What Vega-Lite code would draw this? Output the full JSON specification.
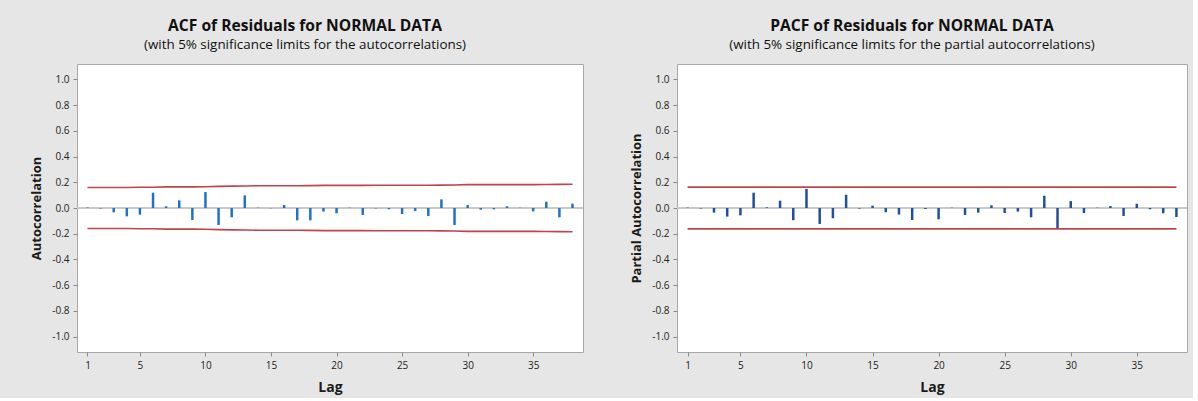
{
  "$schema": "https://vega.github.io/schema/vega-lite/v6.json",
  "background": "#e6e6e6",
  "padding": {"left": 30, "top": 18, "right": 5, "bottom": 3},
  "config": {
    "font": "Open Sans",
    "view": {"stroke": "#a8a8a8", "fill": "white", "strokeWidth": 1},
    "axis": {"grid": false, "domain": false, "tickColor": "#888888", "labelColor": "#222222", "labelFontSize": 10, "labelOverlap": false, "titleFontSize": 13, "titleFontWeight": "bold", "titleColor": "#1a1a1a", "tickSize": 4, "labelPadding": 4},
    "axisY": {"labelOverlap": false, "tickCount": 11},
    "title": {"fontSize": 15.6, "fontWeight": "bold", "subtitleFontSize": 13.4, "color": "#111111", "subtitleColor": "#111111", "subtitlePadding": 3},
    "concat": {"spacing": 46}
  },
  "datasets": {
    "d": [
      {"lag": 1, "acf": 0.004, "au": 0.160, "al": -0.160, "pacf": 0.003, "pu": 0.162, "pl": -0.162},
      {"lag": 2, "acf": -0.004, "au": 0.160, "al": -0.160, "pacf": -0.004, "pu": 0.162, "pl": -0.162},
      {"lag": 3, "acf": -0.034, "au": 0.160, "al": -0.160, "pacf": -0.036, "pu": 0.162, "pl": -0.162},
      {"lag": 4, "acf": -0.065, "au": 0.160, "al": -0.160, "pacf": -0.067, "pu": 0.162, "pl": -0.162},
      {"lag": 5, "acf": -0.052, "au": 0.161, "al": -0.161, "pacf": -0.057, "pu": 0.162, "pl": -0.162},
      {"lag": 6, "acf": 0.119, "au": 0.161, "al": -0.161, "pacf": 0.119, "pu": 0.162, "pl": -0.162},
      {"lag": 7, "acf": 0.013, "au": 0.164, "al": -0.164, "pacf": 0.005, "pu": 0.162, "pl": -0.162},
      {"lag": 8, "acf": 0.059, "au": 0.164, "al": -0.164, "pacf": 0.057, "pu": 0.162, "pl": -0.162},
      {"lag": 9, "acf": -0.093, "au": 0.164, "al": -0.164, "pacf": -0.095, "pu": 0.162, "pl": -0.162},
      {"lag": 10, "acf": 0.124, "au": 0.165, "al": -0.165, "pacf": 0.149, "pu": 0.162, "pl": -0.162},
      {"lag": 11, "acf": -0.132, "au": 0.168, "al": -0.168, "pacf": -0.124, "pu": 0.162, "pl": -0.162},
      {"lag": 12, "acf": -0.072, "au": 0.170, "al": -0.170, "pacf": -0.080, "pu": 0.162, "pl": -0.162},
      {"lag": 13, "acf": 0.098, "au": 0.171, "al": -0.171, "pacf": 0.103, "pu": 0.162, "pl": -0.162},
      {"lag": 14, "acf": 0.002, "au": 0.173, "al": -0.173, "pacf": -0.005, "pu": 0.162, "pl": -0.162},
      {"lag": 15, "acf": -0.002, "au": 0.173, "al": -0.173, "pacf": 0.018, "pu": 0.162, "pl": -0.162},
      {"lag": 16, "acf": 0.023, "au": 0.173, "al": -0.173, "pacf": -0.033, "pu": 0.162, "pl": -0.162},
      {"lag": 17, "acf": -0.096, "au": 0.173, "al": -0.173, "pacf": -0.051, "pu": 0.162, "pl": -0.162},
      {"lag": 18, "acf": -0.096, "au": 0.174, "al": -0.174, "pacf": -0.093, "pu": 0.162, "pl": -0.162},
      {"lag": 19, "acf": -0.028, "au": 0.176, "al": -0.176, "pacf": -0.008, "pu": 0.162, "pl": -0.162},
      {"lag": 20, "acf": -0.041, "au": 0.176, "al": -0.176, "pacf": -0.088, "pu": 0.162, "pl": -0.162},
      {"lag": 21, "acf": 0.002, "au": 0.176, "al": -0.176, "pacf": 0.002, "pu": 0.162, "pl": -0.162},
      {"lag": 22, "acf": -0.054, "au": 0.176, "al": -0.176, "pacf": -0.054, "pu": 0.162, "pl": -0.162},
      {"lag": 23, "acf": -0.003, "au": 0.177, "al": -0.177, "pacf": -0.036, "pu": 0.162, "pl": -0.162},
      {"lag": 24, "acf": -0.010, "au": 0.177, "al": -0.177, "pacf": 0.021, "pu": 0.162, "pl": -0.162},
      {"lag": 25, "acf": -0.047, "au": 0.177, "al": -0.177, "pacf": -0.039, "pu": 0.162, "pl": -0.162},
      {"lag": 26, "acf": -0.023, "au": 0.177, "al": -0.177, "pacf": -0.028, "pu": 0.162, "pl": -0.162},
      {"lag": 27, "acf": -0.062, "au": 0.177, "al": -0.177, "pacf": -0.072, "pu": 0.162, "pl": -0.162},
      {"lag": 28, "acf": 0.067, "au": 0.178, "al": -0.178, "pacf": 0.095, "pu": 0.162, "pl": -0.162},
      {"lag": 29, "acf": -0.132, "au": 0.179, "al": -0.179, "pacf": -0.162, "pu": 0.162, "pl": -0.162},
      {"lag": 30, "acf": 0.023, "au": 0.182, "al": -0.182, "pacf": 0.054, "pu": 0.162, "pl": -0.162},
      {"lag": 31, "acf": -0.013, "au": 0.182, "al": -0.182, "pacf": -0.039, "pu": 0.162, "pl": -0.162},
      {"lag": 32, "acf": -0.010, "au": 0.182, "al": -0.182, "pacf": 0.002, "pu": 0.162, "pl": -0.162},
      {"lag": 33, "acf": 0.013, "au": 0.182, "al": -0.182, "pacf": 0.015, "pu": 0.162, "pl": -0.162},
      {"lag": 34, "acf": 0.002, "au": 0.182, "al": -0.182, "pacf": -0.062, "pu": 0.162, "pl": -0.162},
      {"lag": 35, "acf": -0.026, "au": 0.182, "al": -0.182, "pacf": 0.033, "pu": 0.162, "pl": -0.162},
      {"lag": 36, "acf": 0.049, "au": 0.183, "al": -0.183, "pacf": -0.010, "pu": 0.162, "pl": -0.162},
      {"lag": 37, "acf": -0.072, "au": 0.184, "al": -0.184, "pacf": -0.041, "pu": 0.162, "pl": -0.162},
      {"lag": 38, "acf": 0.034, "au": 0.185, "al": -0.185, "pacf": -0.070, "pu": 0.162, "pl": -0.162}
    ]
  },
  "hconcat": [
    {
      "width": 506,
      "height": 288,
      "title": {"text": "ACF of Residuals for NORMAL DATA", "subtitle": "(with 5% significance limits for the autocorrelations)", "anchor": "middle", "frame": "group", "offset": 13, "dx": -25},
      "data": {"name": "d"},
      "layer": [
        {"mark": {"type": "rule", "color": "#c8c8c8", "strokeWidth": 1},
         "encoding": {"y": {"datum": 0, "type": "quantitative", "scale": {"domain": [-1.12, 1.12], "nice": false, "zero": false}, "axis": {"values": [-1, -0.8, -0.6, -0.4, -0.2, 0, 0.2, 0.4, 0.6, 0.8, 1], "tickCount": 11, "labelExpr": "replace(format(datum.value, '.1f'), '\u2212', '-')", "labelOverlap": false, "labelBound": false, "title": "Autocorrelation", "titlePadding": 8}}}},
        {"mark": {"type": "rule", "color": "#1f72cc", "strokeWidth": 2.5},
         "encoding": {
           "x": {"field": "lag", "type": "quantitative", "scale": {"domain": [0.2, 38.8], "nice": false, "zero": false}, "axis": {"values": [1, 5, 10, 15, 20, 25, 30, 35], "labelOverlap": false, "title": "Lag", "titleFontSize": 14, "titlePadding": 10}},
           "y": {"field": "acf", "type": "quantitative", "axis": {"values": [-1, -0.8, -0.6, -0.4, -0.2, 0, 0.2, 0.4, 0.6, 0.8, 1], "tickCount": 11, "labelExpr": "replace(format(datum.value, '.1f'), '\u2212', '-')", "labelOverlap": false, "title": "Autocorrelation", "titlePadding": 8}},
           "y2": {"datum": 0}}},
        {"mark": {"type": "line", "color": "#c4424b", "strokeWidth": 1.6},
         "encoding": {"x": {"field": "lag", "type": "quantitative"}, "y": {"field": "au", "type": "quantitative"}}},
        {"mark": {"type": "line", "color": "#c4424b", "strokeWidth": 1.6},
         "encoding": {"x": {"field": "lag", "type": "quantitative"}, "y": {"field": "al", "type": "quantitative"}}}
      ]
    },
    {
      "width": 510,
      "height": 288,
      "title": {"text": "PACF of Residuals for NORMAL DATA", "subtitle": "(with 5% significance limits for the partial autocorrelations)", "anchor": "middle", "frame": "group", "offset": 13, "dx": -20},
      "data": {"name": "d"},
      "layer": [
        {"mark": {"type": "rule", "color": "#c8c8c8", "strokeWidth": 1},
         "encoding": {"y": {"datum": 0, "type": "quantitative", "scale": {"domain": [-1.12, 1.12], "nice": false, "zero": false}, "axis": {"values": [-1, -0.8, -0.6, -0.4, -0.2, 0, 0.2, 0.4, 0.6, 0.8, 1], "tickCount": 11, "labelExpr": "replace(format(datum.value, '.1f'), '\u2212', '-')", "labelOverlap": false, "labelBound": false, "title": "Partial Autocorrelation", "titlePadding": 8}}}},
        {"mark": {"type": "rule", "color": "#1f4f9e", "strokeWidth": 2.5},
         "encoding": {
           "x": {"field": "lag", "type": "quantitative", "scale": {"domain": [0.2, 38.8], "nice": false, "zero": false}, "axis": {"values": [1, 5, 10, 15, 20, 25, 30, 35], "labelOverlap": false, "title": "Lag", "titleFontSize": 14, "titlePadding": 10}},
           "y": {"field": "pacf", "type": "quantitative", "axis": {"values": [-1, -0.8, -0.6, -0.4, -0.2, 0, 0.2, 0.4, 0.6, 0.8, 1], "tickCount": 11, "labelExpr": "replace(format(datum.value, '.1f'), '\u2212', '-')", "labelOverlap": false, "title": "Partial Autocorrelation", "titlePadding": 8}},
           "y2": {"datum": 0}}},
        {"mark": {"type": "line", "color": "#c4424b", "strokeWidth": 1.6},
         "encoding": {"x": {"field": "lag", "type": "quantitative"}, "y": {"field": "pu", "type": "quantitative"}}},
        {"mark": {"type": "line", "color": "#c4424b", "strokeWidth": 1.6},
         "encoding": {"x": {"field": "lag", "type": "quantitative"}, "y": {"field": "pl", "type": "quantitative"}}}
      ]
    }
  ]
}
